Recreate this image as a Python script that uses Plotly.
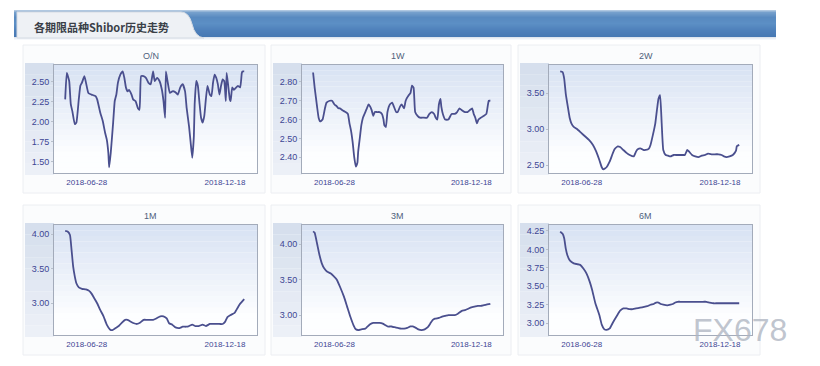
import plotly.graph_objects as go
import pandas as pd

# ---------------- data (day offsets from 2018-06-01, rate in %) ----------------
START = "2018-06-01"

on_day = [0, 2, 5, 7, 9, 12, 14, 17, 19, 21, 24, 26, 29, 33, 38, 40, 44, 47, 50, 52, 54, 55, 57, 60,
          62, 64, 66, 69, 72, 74, 76, 78, 80, 83, 85, 88, 91, 93, 95, 98, 101, 104, 107, 110, 112,
          115, 118, 121, 123, 125, 126, 128, 131, 134, 136, 139, 141, 144, 147, 150, 152, 155, 157,
          159, 161, 162, 164, 166, 168, 170, 172, 174, 176, 178, 181, 183, 185, 187, 189, 191, 193,
          195, 197, 199, 201, 202, 204, 206, 207, 209, 211, 214, 216, 219, 221, 222, 224]
on_val = [2.28, 2.61, 2.51, 2.22, 2.13, 1.97, 1.99, 2.28, 2.45, 2.49, 2.57, 2.49, 2.36, 2.34, 2.32,
          2.28, 2.11, 2.01, 1.86, 1.78, 1.61, 1.43, 1.61, 1.99, 2.26, 2.34, 2.49, 2.59, 2.63, 2.55,
          2.43, 2.38, 2.40, 2.34, 2.28, 2.26, 2.17, 2.15, 2.57, 2.57, 2.55, 2.49, 2.47, 2.63, 2.51,
          2.55, 2.51, 2.40, 2.26, 2.05, 2.63, 2.51, 2.36, 2.38, 2.38, 2.36, 2.34, 2.43, 2.47, 2.38,
          2.17, 1.94, 1.74, 1.55, 1.82, 2.22, 2.51, 2.45, 2.24, 2.05, 1.99, 2.07, 2.28, 2.45, 2.34,
          2.32, 2.49, 2.59, 2.55, 2.47, 2.34, 2.45, 2.53, 2.51, 2.26, 2.61, 2.45, 2.28, 2.26, 2.43,
          2.40, 2.43, 2.45, 2.43, 2.61, 2.63, 2.63]

w1_day = [0, 2, 5, 7, 9, 12, 15, 17, 21, 24, 27, 30, 32, 34, 37, 41, 44, 46, 48, 50, 52, 54, 56, 57,
          59, 61, 63, 66, 68, 70, 72, 74, 76, 78, 81, 84, 87, 89, 90, 92, 94, 97, 100, 102, 105, 107,
          110, 112, 115, 117, 121, 123, 125, 127, 129, 132, 135, 139, 144, 147, 150, 153, 155, 157,
          159, 161, 162, 164, 167, 171, 175, 179, 182, 185, 188, 192, 195, 198, 201, 203, 205, 207,
          209, 212, 216, 219, 221, 222, 224]
w1_val = [2.85, 2.77, 2.67, 2.61, 2.59, 2.60, 2.66, 2.69, 2.70, 2.70, 2.68, 2.67, 2.66, 2.66, 2.65,
          2.64, 2.63, 2.58, 2.54, 2.48, 2.40, 2.35, 2.37, 2.43, 2.50, 2.57, 2.61, 2.64, 2.66, 2.68,
          2.67, 2.65, 2.62, 2.64, 2.64, 2.64, 2.63, 2.60, 2.57, 2.56, 2.64, 2.68, 2.69, 2.67, 2.64,
          2.64, 2.67, 2.68, 2.66, 2.70, 2.73, 2.74, 2.78, 2.77, 2.64, 2.62, 2.61, 2.61, 2.61, 2.63,
          2.64, 2.63, 2.61, 2.60, 2.68, 2.71, 2.67, 2.63, 2.60, 2.60, 2.63, 2.63, 2.64, 2.66, 2.65,
          2.64, 2.64, 2.65, 2.66, 2.63, 2.61, 2.58, 2.60, 2.61, 2.62, 2.63, 2.68, 2.70, 2.70]

w2_day = [0, 3, 5, 7, 10, 12, 14, 17, 21, 26, 31, 36, 41, 45, 49, 52, 54, 58, 62, 65, 68, 72, 75, 79,
          83, 87, 92, 95, 97, 101, 104, 107, 111, 113, 116, 119, 121, 123, 125, 127, 129, 132, 135,
          138, 142, 146, 150, 154, 156, 159, 161, 165, 169, 173, 177, 181, 185, 190, 194, 198, 202,
          205, 208, 212, 216, 220, 221, 224]
w2_val = [3.80, 3.79, 3.70, 3.49, 3.28, 3.15, 3.08, 3.03, 3.00, 2.95, 2.90, 2.85, 2.78, 2.69, 2.57,
          2.47, 2.44, 2.47, 2.55, 2.64, 2.72, 2.76, 2.75, 2.71, 2.67, 2.64, 2.62, 2.69, 2.72, 2.73,
          2.71, 2.71, 2.73, 2.78, 2.92, 3.08, 3.26, 3.42, 3.47, 3.08, 2.71, 2.64, 2.63, 2.62, 2.64,
          2.64, 2.64, 2.64, 2.64, 2.71, 2.69, 2.64, 2.62, 2.61, 2.63, 2.64, 2.66, 2.65, 2.65, 2.65,
          2.64, 2.62, 2.61, 2.62, 2.64, 2.70, 2.76, 2.78]

m1_day = [0, 3, 6, 8, 10, 12, 14, 17, 21, 26, 30, 33, 36, 40, 44, 48, 52, 56, 59, 63, 67, 71, 75, 78,
          81, 86, 90, 94, 98, 102, 106, 110, 114, 119, 123, 127, 130, 134, 138, 143, 147, 151, 155,
          159, 163, 167, 172, 176, 181, 185, 189, 193, 197, 200, 203, 207, 212, 214, 218, 221, 224]
m1_val = [4.05, 4.04, 3.99, 3.77, 3.53, 3.39, 3.29, 3.23, 3.21, 3.20, 3.18, 3.14, 3.08, 3.00, 2.90,
          2.81, 2.69, 2.62, 2.61, 2.64, 2.67, 2.72, 2.76, 2.76, 2.74, 2.71, 2.70, 2.72, 2.76, 2.76,
          2.76, 2.76, 2.78, 2.81, 2.81, 2.78, 2.71, 2.69, 2.65, 2.64, 2.66, 2.66, 2.67, 2.69, 2.67,
          2.67, 2.69, 2.67, 2.70, 2.70, 2.70, 2.70, 2.70, 2.73, 2.80, 2.83, 2.86, 2.90, 2.98, 3.02,
          3.06]

m3_day = [0, 2, 5, 8, 11, 14, 18, 22, 26, 30, 34, 39, 43, 47, 51, 54, 57, 61, 66, 68, 72, 76, 80, 84,
          88, 91, 94, 99, 103, 107, 111, 115, 119, 123, 126, 130, 133, 137, 141, 145, 148, 151, 154,
          159, 163, 167, 171, 175, 179, 183, 188, 192, 196, 200, 204, 208, 212, 216, 220, 224]
m3_val = [4.18, 4.16, 4.01, 3.85, 3.73, 3.66, 3.61, 3.59, 3.55, 3.50, 3.40, 3.26, 3.12, 2.98, 2.86,
          2.80, 2.79, 2.80, 2.81, 2.83, 2.87, 2.89, 2.89, 2.89, 2.88, 2.86, 2.84, 2.84, 2.83, 2.82,
          2.81, 2.81, 2.82, 2.84, 2.84, 2.82, 2.80, 2.79, 2.80, 2.83, 2.88, 2.93, 2.95, 2.96, 2.98,
          2.99, 3.00, 3.00, 3.00, 3.02, 3.06, 3.07, 3.09, 3.11, 3.12, 3.13, 3.13, 3.14, 3.15, 3.16]

m6_day = [0, 3, 5, 7, 9, 12, 17, 21, 25, 29, 33, 37, 40, 44, 49, 52, 55, 58, 62, 66, 71, 75, 79, 83,
          87, 91, 95, 100, 105, 109, 113, 117, 120, 123, 126, 129, 134, 138, 141, 144, 147, 150, 154,
          158, 163, 167, 171, 175, 179, 183, 187, 192, 196, 200, 204, 208, 212, 217, 221, 224]
m6_val = [4.24, 4.21, 4.15, 4.01, 3.92, 3.85, 3.81, 3.80, 3.79, 3.74, 3.67, 3.56, 3.45, 3.27, 3.11,
          2.98, 2.92, 2.91, 2.93, 3.01, 3.10, 3.17, 3.20, 3.20, 3.19, 3.19, 3.20, 3.21, 3.22, 3.23,
          3.25, 3.26, 3.28, 3.28, 3.26, 3.25, 3.24, 3.25, 3.26, 3.28, 3.29, 3.29, 3.29, 3.29, 3.29,
          3.29, 3.29, 3.29, 3.29, 3.29, 3.28, 3.27, 3.27, 3.27, 3.27, 3.27, 3.27, 3.27, 3.27, 3.27]

titles = ["O/N", "1W", "2W", "1M", "3M", "6M"]
tick_dates = ["2018-06-28", "2018-12-18"]
y_ranges = [[1.36, 2.71], [2.316, 2.89], [2.39, 3.89], [2.54, 4.135], [2.72, 4.27], [2.84, 4.33]]
y_ticks = [[1.50, 1.75, 2.00, 2.25, 2.50], [2.40, 2.50, 2.60, 2.70, 2.80], [2.50, 3.00, 3.50],
           [3.00, 3.50, 4.00], [3.00, 3.50, 4.00], [3.00, 3.25, 3.50, 3.75, 4.00, 4.25]]
header_text = "各期限品种Shibor历史走势"
watermark = "FX678"

series = [(on_day, on_val), (w1_day, w1_val), (w2_day, w2_val),
          (m1_day, m1_val), (m3_day, m3_val), (m6_day, m6_val)]

# ---------------- layout geometry (pixels) ----------------
W, H = 820, 366
cols = [(54, 257), (302, 503), (549, 752)]
rows = [(65, 173), (225, 335)]
x_range = ["2018-05-18", "2019-01-27"]

def px(x):
    return x / W

def py(y):
    return 1 - y / H

LINE = "#4a4f8e"
TICK = "#3d4594"
BORDER = "#a3abba"

fig = go.Figure()
shapes = []
annotations = []

def mix(c1, c2, t):
    return "rgb(%d,%d,%d)" % tuple(round(a + (b - a) * t) for a, b in zip(c1, c2))

# header bar gradient
bar_stops = [(10, (176, 200, 225)), (12, (118, 160, 204)), (17, (88, 138, 192)),
             (23, (92, 143, 197)), (30, (78, 128, 186)), (37, (70, 119, 178))]
for y in range(10, 37):
    for (ya, ca), (yb, cb) in zip(bar_stops[:-1], bar_stops[1:]):
        if ya <= y < yb:
            col = mix(ca, cb, (y - ya) / (yb - ya))
            break
    shapes.append(dict(type="rect", xref="paper", yref="paper", x0=px(14), x1=px(776),
                       y0=py(y + 1), y1=py(y), line=dict(width=0), fillcolor=col, layer="below"))
# shadow under bar
for i, c in enumerate([(222, 229, 238), (236, 240, 246), (246, 248, 251)]):
    shapes.append(dict(type="rect", xref="paper", yref="paper", x0=px(14), x1=px(776),
                       y0=py(38 + i), y1=py(37 + i), line=dict(width=0),
                       fillcolor=mix(c, c, 0), layer="below"))
# tab
def P(x, y):
    return "%.5f,%.5f" % (px(x), py(y))
tab_path = ("M " + P(17, 12) + " L " + P(181, 12) + " Q " + P(189, 12) + " " + P(192, 24)
            + " Q " + P(195, 37) + " " + P(204, 38) + " L " + P(17, 38) + " Z")
shapes.append(dict(type="path", xref="paper", yref="paper", path=tab_path,
                   fillcolor="#eef1f5", line=dict(color="#d5dbe3", width=1), layer="below"))
annotations.append(dict(text="<b>" + header_text + "</b>", x=px(32), y=py(26.5), xref="paper",
                        yref="paper", xanchor="left", yanchor="middle", showarrow=False,
                        font=dict(family="Noto Sans CJK SC", size=11, color="#3a3f48")))

top_col = (216, 226, 243)
bot_col = (253, 254, 255)

for k, ((days, vals), title) in enumerate(zip(series, titles)):
    r, c = divmod(k, 3)
    x0, x1 = cols[c]
    y0, y1 = rows[r]
    n = "" if k == 0 else str(k + 1)
    # card
    shapes.append(dict(type="rect", xref="paper", yref="paper", x0=px(x0 - 31), x1=px(x1 + 8),
                       y0=py(y1 + 20), y1=py(y0 - 20), line=dict(color="#eceef2", width=1),
                       fillcolor="#fbfcfd", layer="below"))
    # left band behind tick labels
    for s in range(10):
        ya = y0 - 2 + (y1 - y0 + 4) * s / 10
        yb = y0 - 2 + (y1 - y0 + 4) * (s + 1) / 10
        shapes.append(dict(type="rect", xref="paper", yref="paper", x0=px(x0 - 29), x1=px(x0),
                           y0=py(yb), y1=py(ya), line=dict(width=0),
                           fillcolor=mix((214, 223, 237), (236, 240, 247), s / 9), layer="below"))
    # plot area gradient
    NS = 20
    for s in range(NS):
        ya = y0 + (y1 - y0) * s / NS
        yb = y0 + (y1 - y0) * (s + 1) / NS
        t = min(1.0, s / (NS * 0.8))
        shapes.append(dict(type="rect", xref="paper", yref="paper", x0=px(x0), x1=px(x1),
                           y0=py(yb), y1=py(ya), line=dict(width=0),
                           fillcolor=mix(top_col, bot_col, t), layer="below"))
    dates = [pd.Timestamp(START) + pd.Timedelta(days=d) for d in days]
    fig.add_trace(go.Scatter(x=dates, y=vals, mode="lines", xaxis="x" + n, yaxis="y" + n,
                             line=dict(color=LINE, width=1.8, shape="spline", smoothing=0.4),
                             showlegend=False, hoverinfo="skip"))
    fig.layout["xaxis" + n] = dict(
        domain=[px(x0), px(x1)], anchor="y" + n, type="date", range=x_range,
        tickvals=tick_dates, ticktext=tick_dates, showgrid=False, zeroline=False,
        showline=True, mirror=True, linecolor=BORDER, linewidth=1, ticks="outside",
        ticklen=1, tickcolor="rgba(0,0,0,0)",
        tickfont=dict(family="Liberation Sans", size=8, color=TICK), fixedrange=True)
    fig.layout["yaxis" + n] = dict(
        domain=[py(y1), py(y0)], anchor="x" + n, range=y_ranges[k], tickvals=y_ticks[k],
        tickformat=".2f", showgrid=False, zeroline=False, showline=True, mirror=True,
        linecolor=BORDER, linewidth=1, ticks="outside", ticklen=2, tickcolor="#b8c0cc",
        tickfont=dict(family="Liberation Sans", size=9, color=TICK), fixedrange=True)
    annotations.append(dict(text=title, x=px((x0 + x1) / 2 - 5), y=py(y0 - 9), xref="paper",
                            yref="paper", xanchor="center", yanchor="middle", showarrow=False,
                            font=dict(family="Liberation Sans", size=9, color="#4f5f7c")))

annotations.append(dict(text=watermark, x=px(740), y=py(330), xref="paper", yref="paper",
                        xanchor="center", yanchor="middle", showarrow=False,
                        font=dict(family="Liberation Sans", size=32, color="rgba(175,182,194,0.8)")))

fig.update_layout(width=W, height=H, margin=dict(l=0, r=0, t=0, b=0),
                  paper_bgcolor="#ffffff", plot_bgcolor="rgba(0,0,0,0)",
                  shapes=shapes, annotations=annotations, showlegend=False)

fig.write_html("out.html", config={"displayModeBar": False})
